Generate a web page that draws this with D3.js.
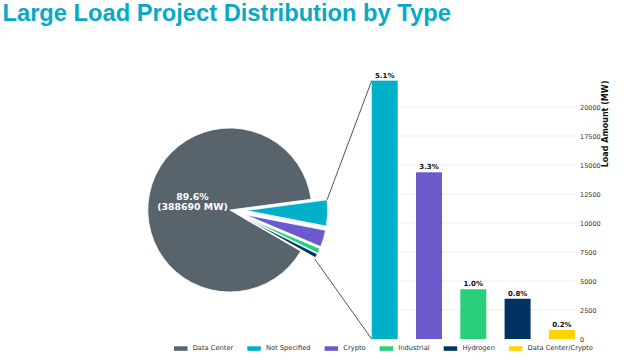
<!DOCTYPE html>
<html><head><meta charset="utf-8">
<script src="https://cdn.jsdelivr.net/npm/d3@7"></script>
<style>body{margin:0;background:#fff}svg{display:block}</style>
</head><body>
<svg id="c" width="624" height="360"></svg>
<script>
const categories = ["Data Center","Not Specified","Crypto","Industrial","Hydrogen","Data Center/Crypto"];
const loadMW = [388690, 22270, 14370, 4290, 3470, 780];
const colors = ["#58636c","#00afc8","#6a5acd","#28d07c","#003361","#ffd200"];
const barCategories = categories.slice(1);
const barValues = loadMW.slice(1);
const yTicks = [0,2500,5000,7500,10000,12500,15000,17500,20000];
const titleText = "Large Load Project Distribution by Type";
const yLabel = "Load Amount (MW)";

const svg = d3.select("#c");
const total = d3.sum(loadMW);
const pctFmt = v => (v/total*100).toFixed(1) + "%";
const DV = "'DejaVu Sans', sans-serif";

// Title
svg.append("text").attr("x",2.5).attr("y",20.7)
  .attr("font-family","'Liberation Sans', Arial, sans-serif").attr("font-weight","bold")
  .attr("font-size",23.7).attr("fill","#08a9c6").text(titleText);

// Pie
const cx = 229.8, cy = 210, R = 82, explodePx = 16;
const deg = Math.PI/180;
const pie = d3.pie().sort(null).startAngle(120*deg).endAngle(480*deg);
const arcs = pie(loadMW);
const arc = d3.arc().innerRadius(0).outerRadius(R);
const gPie = svg.append("g").attr("transform",`translate(${cx},${cy})`);
const offs = arcs.map((a,i) => {
  if (i === 0) return [0,0];
  const m = (a.startAngle + a.endAngle)/2;
  return [explodePx*Math.sin(m), -explodePx*Math.cos(m)];
});
gPie.selectAll("path").data(arcs).join("path")
  .attr("d", arc)
  .attr("transform",(d,i)=>`translate(${offs[i][0]},${offs[i][1]})`)
  .attr("fill",(d,i)=>colors[i])
  .attr("stroke","#fff").attr("stroke-width",0.8);

const pl = gPie.append("text").attr("text-anchor","middle")
  .attr("font-family",DV).attr("font-weight","bold").attr("font-size",9.4).attr("fill","#fff");
pl.append("tspan").attr("x",-37.3).attr("y",-10.5).text(pctFmt(loadMW[0]));
pl.append("tspan").attr("x",-37.3).attr("y",0).text(`(${loadMW[0]} MW)`);

// Bars
const x = d3.scaleBand().domain(barCategories).range([362.55, 584.05]).paddingInner(0.413).paddingOuter(0.2065);
const y = d3.scaleLinear().domain([0, 24000]).range([339, 339 - 24000*232/20000]);
const axL = 371.7, axR = 577;

svg.append("g").selectAll("line").data(yTicks.slice(1)).join("line")
  .attr("x1",axL).attr("x2",axR).attr("y1",d=>y(d)).attr("y2",d=>y(d))
  .attr("stroke","#ebebeb").attr("stroke-width",0.8);

svg.append("g").selectAll("rect").data(barValues).join("rect")
  .attr("x",(d,i)=>x(barCategories[i])).attr("width",x.bandwidth())
  .attr("y",d=>y(d)).attr("height",d=>y(0)-y(d))
  .attr("fill",(d,i)=>colors[i+1]);

svg.append("g").selectAll("text").data(barValues).join("text")
  .attr("x",(d,i)=>x(barCategories[i])+x.bandwidth()/2).attr("y",d=>y(d)-3)
  .attr("text-anchor","middle").attr("font-family",DV).attr("font-weight","bold")
  .attr("font-size",7).attr("fill","#111").text(d=>pctFmt(d));

const yAxis = d3.axisRight(y).tickValues(yTicks).tickSize(0).tickPadding(3).tickFormat(d3.format("d"));
const ga = svg.append("g").attr("transform",`translate(${axR},0)`).call(yAxis);
ga.select(".domain").remove();
ga.selectAll("text").attr("font-family",DV).attr("font-size",6.5).attr("fill","#333");

svg.append("text").attr("transform",`translate(608,124) rotate(-90)`)
  .attr("text-anchor","middle").attr("font-family",DV).attr("font-weight","bold")
  .attr("font-size",8).attr("fill","#111").text(yLabel);

// Connection lines
const nsArc = arcs[1], lastArc = arcs[arcs.length-1];
const topPt = [cx + offs[1][0] + R*Math.sin(nsArc.endAngle), cy + offs[1][1] - R*Math.cos(nsArc.endAngle)];
// top edge of NS is its end angle? NS goes clockwise from start; top edge is the smaller angle
const nsTop = [cx + offs[1][0] + R*Math.sin(nsArc.startAngle), cy + offs[1][1] - R*Math.cos(nsArc.startAngle)];
const lastBot = [cx + offs[5][0] + R*Math.sin(lastArc.endAngle), cy + offs[5][1] - R*Math.cos(lastArc.endAngle)];
const barTopLeft = [x(barCategories[0]), y(barValues[0])];
const barBotLeft = [x(barCategories[0]), y(0)];
svg.append("line").attr("x1",nsTop[0]).attr("y1",nsTop[1]).attr("x2",barTopLeft[0]).attr("y2",barTopLeft[1])
  .attr("stroke","#555").attr("stroke-width",1);
svg.append("line").attr("x1",lastBot[0]).attr("y1",lastBot[1]).attr("x2",barBotLeft[0]).attr("y2",barBotLeft[1])
  .attr("stroke","#555").attr("stroke-width",1);

// Legend
const lg = svg.append("g");
let lx = 174;
categories.forEach((c,i) => {
  lg.append("rect").attr("x",lx).attr("y",346.3).attr("width",13.5).attr("height",4.5).attr("fill",colors[i]);
  const t = lg.append("text").attr("x",lx+18.7).attr("y",348.6).attr("dominant-baseline","middle")
    .attr("font-family",DV).attr("font-size",6.7).attr("fill","#333").text(c);
  lx += 18.7 + t.node().getComputedTextLength() + 14;
});
</script>
</body></html>
